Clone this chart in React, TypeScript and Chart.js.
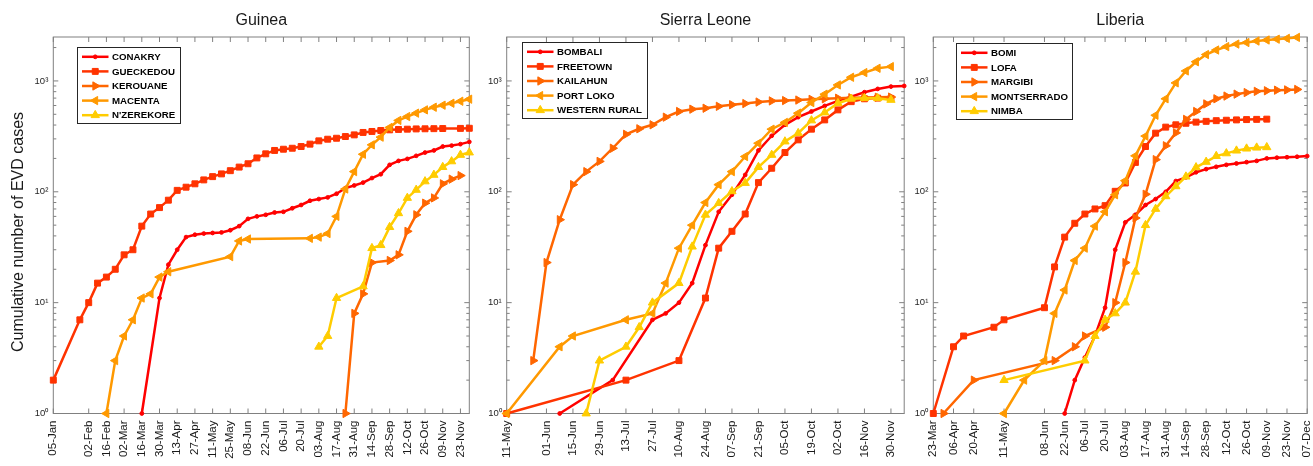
import React, { useEffect, useRef } from 'react';
import { Chart, registerables } from 'chart.js';

Chart.register(...registerables);

// ---------------- DATA ----------------
// Guinea (cumulative EVD cases, weekly, 2014)
const conakry: [string, number][] = [
  ['16-Mar', 1], ['30-Mar', 11], ['06-Apr', 22], ['13-Apr', 30], ['20-Apr', 39], ['27-Apr', 41],
  ['04-May', 42], ['11-May', 42.5], ['18-May', 43], ['25-May', 45], ['01-Jun', 49], ['08-Jun', 57],
  ['15-Jun', 60], ['22-Jun', 62], ['29-Jun', 65], ['06-Jul', 66], ['13-Jul', 71], ['20-Jul', 76],
  ['27-Jul', 83], ['03-Aug', 86], ['10-Aug', 89], ['17-Aug', 96], ['24-Aug', 108], ['31-Aug', 114],
  ['07-Sep', 121], ['14-Sep', 133], ['21-Sep', 144], ['28-Sep', 175], ['05-Oct', 190], ['12-Oct', 198],
  ['19-Oct', 211], ['26-Oct', 226], ['02-Nov', 236], ['09-Nov', 256], ['16-Nov', 261], ['23-Nov', 269],
  ['30-Nov', 282],
];
const gueckedou: [string, number][] = [
  ['05-Jan', 2], ['26-Jan', 7], ['02-Feb', 10], ['09-Feb', 15], ['16-Feb', 17], ['23-Feb', 20],
  ['02-Mar', 27], ['09-Mar', 30], ['16-Mar', 49], ['23-Mar', 63], ['30-Mar', 72], ['06-Apr', 84],
  ['13-Apr', 103], ['20-Apr', 110], ['27-Apr', 118], ['04-May', 128], ['11-May', 137], ['18-May', 145],
  ['25-May', 155], ['01-Jun', 167], ['08-Jun', 179], ['15-Jun', 202], ['22-Jun', 220], ['29-Jun', 236],
  ['06-Jul', 242], ['13-Jul', 247], ['20-Jul', 256], ['27-Jul', 269], ['03-Aug', 288], ['10-Aug', 298],
  ['17-Aug', 304], ['24-Aug', 315], ['31-Aug', 326], ['07-Sep', 343], ['14-Sep', 350], ['21-Sep', 357],
  ['28-Sep', 362], ['05-Oct', 365], ['12-Oct', 367], ['19-Oct', 369], ['26-Oct', 370], ['02-Nov', 371],
  ['09-Nov', 372], ['23-Nov', 373], ['30-Nov', 374],
];
const kerouane: [string, number][] = [
  ['24-Aug', 1], ['31-Aug', 8], ['07-Sep', 12], ['14-Sep', 23], ['28-Sep', 24], ['05-Oct', 27],
  ['12-Oct', 44], ['19-Oct', 62], ['26-Oct', 79], ['02-Nov', 88], ['09-Nov', 118], ['16-Nov', 130],
  ['23-Nov', 140],
];
const macenta: [string, number][] = [
  ['16-Feb', 1], ['23-Feb', 3], ['02-Mar', 5], ['09-Mar', 7], ['16-Mar', 11], ['23-Mar', 12],
  ['30-Mar', 17], ['06-Apr', 19], ['25-May', 26], ['01-Jun', 36], ['08-Jun', 37.5], ['27-Jul', 38],
  ['03-Aug', 39], ['10-Aug', 42], ['17-Aug', 60], ['24-Aug', 106], ['31-Aug', 152], ['07-Sep', 218],
  ['14-Sep', 265], ['21-Sep', 311], ['28-Sep', 380], ['05-Oct', 440], ['12-Oct', 477], ['19-Oct', 512],
  ['26-Oct', 548], ['02-Nov', 579], ['09-Nov', 604], ['16-Nov', 629], ['23-Nov', 656], ['30-Nov', 684],
];
const nzerekore: [string, number][] = [
  ['03-Aug', 4], ['10-Aug', 5], ['17-Aug', 11], ['07-Sep', 14], ['14-Sep', 31], ['21-Sep', 33],
  ['28-Sep', 48], ['05-Oct', 64], ['12-Oct', 88], ['19-Oct', 104], ['26-Oct', 124], ['02-Nov', 142],
  ['09-Nov', 167], ['16-Nov', 188], ['23-Nov', 215], ['30-Nov', 226],
];

// Sierra Leone
const bombali: [string, number][] = [
  ['08-Jun', 1], ['06-Jul', 2], ['27-Jul', 7], ['03-Aug', 8], ['10-Aug', 10], ['17-Aug', 15],
  ['24-Aug', 33], ['31-Aug', 66], ['07-Sep', 94], ['14-Sep', 142], ['21-Sep', 236], ['28-Sep', 320],
  ['05-Oct', 402], ['12-Oct', 471], ['19-Oct', 530], ['26-Oct', 595], ['02-Nov', 660], ['09-Nov', 722],
  ['16-Nov', 791], ['23-Nov', 847], ['30-Nov', 889], ['07-Dec', 901],
];
const freetown: [string, number][] = [
  ['11-May', 1], ['13-Jul', 2], ['10-Aug', 3], ['24-Aug', 11], ['31-Aug', 31], ['07-Sep', 44],
  ['14-Sep', 63], ['21-Sep', 121], ['28-Sep', 163], ['05-Oct', 226], ['12-Oct', 294], ['19-Oct', 367],
  ['26-Oct', 445], ['02-Nov', 548], ['09-Nov', 650], ['16-Nov', 690], ['23-Nov', 700], ['30-Nov', 695],
];
const kailahun: [string, number][] = [
  ['25-May', 3], ['01-Jun', 23], ['08-Jun', 56], ['15-Jun', 116], ['22-Jun', 152], ['29-Jun', 188],
  ['06-Jul', 247], ['13-Jul', 330], ['20-Jul', 370], ['27-Jul', 402], ['03-Aug', 471], ['10-Aug', 530],
  ['17-Aug', 556], ['24-Aug', 567], ['31-Aug', 590], ['07-Sep', 610], ['14-Sep', 625], ['21-Sep', 645],
  ['28-Sep', 660], ['05-Oct', 665], ['12-Oct', 672], ['19-Oct', 682], ['26-Oct', 690], ['02-Nov', 698],
  ['09-Nov', 705], ['16-Nov', 710], ['23-Nov', 712], ['30-Nov', 715],
];
const portLoko: [string, number][] = [
  ['11-May', 1], ['08-Jun', 4], ['15-Jun', 5], ['13-Jul', 7], ['27-Jul', 8], ['03-Aug', 15],
  ['10-Aug', 31], ['17-Aug', 50], ['24-Aug', 80], ['31-Aug', 116], ['07-Sep', 152], ['14-Sep', 208],
  ['21-Sep', 274], ['28-Sep', 367], ['05-Oct', 422], ['12-Oct', 512], ['19-Oct', 638], ['26-Oct', 759],
  ['02-Nov', 920], ['09-Nov', 1079], ['16-Nov', 1189], ['23-Nov', 1300], ['30-Nov', 1346],
];
const westernRural: [string, number][] = [
  ['22-Jun', 1], ['29-Jun', 3], ['13-Jul', 4], ['20-Jul', 6], ['27-Jul', 10], ['10-Aug', 15],
  ['17-Aug', 32], ['24-Aug', 62], ['31-Aug', 79], ['07-Sep', 101], ['14-Sep', 120], ['21-Sep', 167],
  ['28-Sep', 215], ['05-Oct', 284], ['12-Oct', 338], ['19-Oct', 440], ['26-Oct', 519], ['02-Nov', 629],
  ['09-Nov', 690], ['16-Nov', 698], ['23-Nov', 698], ['30-Nov', 674],
];

// Liberia
const bomi: [string, number][] = [
  ['22-Jun', 1], ['29-Jun', 2], ['06-Jul', 3.2], ['13-Jul', 5], ['20-Jul', 9], ['27-Jul', 30],
  ['03-Aug', 53], ['10-Aug', 62], ['17-Aug', 76], ['24-Aug', 86], ['31-Aug', 100], ['07-Sep', 125],
  ['14-Sep', 135], ['21-Sep', 150], ['28-Sep', 160], ['05-Oct', 168], ['12-Oct', 175], ['19-Oct', 180],
  ['26-Oct', 185], ['02-Nov', 190], ['09-Nov', 200], ['16-Nov', 203], ['23-Nov', 205], ['30-Nov', 207],
  ['07-Dec', 210],
];
const lofa: [string, number][] = [
  ['23-Mar', 1], ['06-Apr', 4], ['13-Apr', 5], ['04-May', 6], ['11-May', 7], ['08-Jun', 9],
  ['15-Jun', 21], ['22-Jun', 39], ['29-Jun', 52], ['06-Jul', 63], ['13-Jul', 70], ['20-Jul', 75],
  ['27-Jul', 101], ['03-Aug', 120], ['10-Aug', 184], ['17-Aug', 256], ['24-Aug', 338], ['31-Aug', 383],
  ['07-Sep', 402], ['14-Sep', 415], ['21-Sep', 425], ['28-Sep', 432], ['05-Oct', 438], ['12-Oct', 442],
  ['19-Oct', 445], ['26-Oct', 448], ['02-Nov', 450], ['09-Nov', 452],
];
const margibi: [string, number][] = [
  ['30-Mar', 1], ['20-Apr', 2], ['15-Jun', 3], ['29-Jun', 4], ['06-Jul', 5], ['20-Jul', 6],
  ['27-Jul', 10], ['03-Aug', 23], ['10-Aug', 58], ['17-Aug', 95], ['24-Aug', 195], ['31-Aug', 260],
  ['07-Sep', 340], ['14-Sep', 450], ['21-Sep', 530], ['28-Sep', 620], ['05-Oct', 690], ['12-Oct', 730],
  ['19-Oct', 760], ['26-Oct', 785], ['02-Nov', 805], ['09-Nov', 815], ['16-Nov', 825], ['23-Nov', 830],
  ['30-Nov', 838],
];
const montserrado: [string, number][] = [
  ['11-May', 1], ['25-May', 2], ['08-Jun', 3], ['15-Jun', 8], ['22-Jun', 13], ['29-Jun', 24],
  ['06-Jul', 31], ['13-Jul', 49], ['20-Jul', 66], ['27-Jul', 94], ['03-Aug', 126], ['10-Aug', 211],
  ['17-Aug', 318], ['24-Aug', 490], ['31-Aug', 690], ['07-Sep', 960], ['14-Sep', 1230], ['21-Sep', 1490],
  ['28-Sep', 1730], ['05-Oct', 1900], ['12-Oct', 2040], ['19-Oct', 2150], ['26-Oct', 2220], ['02-Nov', 2290],
  ['09-Nov', 2340], ['16-Nov', 2380], ['23-Nov', 2420], ['30-Nov', 2470],
];
const nimba: [string, number][] = [
  ['11-May', 2], ['06-Jul', 3], ['13-Jul', 5], ['20-Jul', 7], ['27-Jul', 8], ['03-Aug', 10],
  ['10-Aug', 19], ['17-Aug', 50], ['24-Aug', 70], ['31-Aug', 91], ['07-Sep', 112], ['14-Sep', 137],
  ['21-Sep', 166], ['28-Sep', 186], ['05-Oct', 210], ['12-Oct', 222], ['19-Oct', 235], ['26-Oct', 245],
  ['02-Nov', 250], ['09-Nov', 252],
];

// Series labels
const guineaLabels = ['CONAKRY', 'GUECKEDOU', 'KEROUANE', 'MACENTA', "N'ZEREKORE"];
const sierraLabels = ['BOMBALI', 'FREETOWN', 'KAILAHUN', 'PORT LOKO', 'WESTERN RURAL'];
const liberiaLabels = ['BOMI', 'LOFA', 'MARGIBI', 'MONTSERRADO', 'NIMBA'];

// Tick dates and tick labels
const guineaTickDates = ['05-Jan', '02-Feb', '16-Feb', '02-Mar', '16-Mar', '30-Mar', '13-Apr', '27-Apr',
  '11-May', '25-May', '08-Jun', '22-Jun', '06-Jul', '20-Jul', '03-Aug', '17-Aug', '31-Aug', '14-Sep',
  '28-Sep', '12-Oct', '26-Oct', '09-Nov', '23-Nov'];
const guineaTickLabels = [...guineaTickDates];
const sierraTickDates = ['11-May', '01-Jun', '15-Jun', '29-Jun', '13-Jul', '27-Jul', '10-Aug', '24-Aug',
  '07-Sep', '21-Sep', '05-Oct', '19-Oct', '02-Nov', '16-Nov', '30-Nov'];
const sierraTickLabels = ['11-May', '01-Jun', '15-Jun', '29-Jun', '13-Jul', '27-Jul', '10-Aug', '24-Aug',
  '07-Sep', '21-Sep', '05-Oct', '19-Oct', '02-Oct', '16-Nov', '30-Nov'];
const liberiaTickDates = ['23-Mar', '06-Apr', '20-Apr', '11-May', '08-Jun', '22-Jun', '06-Jul', '20-Jul',
  '03-Aug', '17-Aug', '31-Aug', '14-Sep', '28-Sep', '12-Oct', '26-Oct', '09-Nov', '23-Nov', '07-Dec'];
const liberiaTickLabels = [...liberiaTickDates];

const yTickValues = [1, 10, 100, 1000];
const yTickLabels = ['10⁰', '10¹', '10²', '10³'];

// ---------------- HELPERS / STYLE ----------------
const MONTH_OFFSET: Record<string, number> = {
  Jan: 0, Feb: 31, Mar: 59, Apr: 90, May: 120, Jun: 151, Jul: 181, Aug: 212, Sep: 243, Oct: 273, Nov: 304, Dec: 334,
};
const dayOf = (s: string) => {
  const [d, m] = s.split('-');
  return MONTH_OFFSET[m] + Number(d);
};

const COLORS = ['#FF0000', '#FF3300', '#FF6600', '#FF9900', '#FFCC00'];
const MARKERS = [
  { style: 'circle', radius: 1.9, rotation: 0 },
  { style: 'rect', radius: 4.2, rotation: 0 },
  { style: 'triangle', radius: 4.8, rotation: 90 },
  { style: 'triangle', radius: 4.8, rotation: -90 },
  { style: 'triangle', radius: 4.8, rotation: 0 },
];
const FONT = '"Liberation Sans", Arial, Helvetica, sans-serif';

function drawMarker(ctx: CanvasRenderingContext2D, i: number, x: number, y: number) {
  const m = MARKERS[i];
  const r = m.radius;
  ctx.beginPath();
  if (m.style === 'circle') {
    ctx.arc(x, y, r, 0, Math.PI * 2);
  } else if (m.style === 'rect') {
    const s = Math.SQRT1_2 * r;
    ctx.rect(x - s, y - s, 2 * s, 2 * s);
  } else {
    let rad = (m.rotation * Math.PI) / 180;
    for (let k = 0; k < 3; k++) {
      const px = x + Math.sin(rad) * r;
      const py = y - Math.cos(rad) * r;
      if (k === 0) ctx.moveTo(px, py); else ctx.lineTo(px, py);
      rad += (2 * Math.PI) / 3;
    }
    ctx.closePath();
  }
  ctx.fillStyle = COLORS[i];
  ctx.strokeStyle = COLORS[i];
  ctx.lineWidth = 1;
  ctx.fill();
  ctx.stroke();
}

const panelPlugin = {
  id: 'panel',
  beforeDatasetsDraw(chart: any, _args: any, opts: any) {
    const { ctx, chartArea } = chart;
    const { left, right, top, bottom } = chartArea;
    ctx.save();
    ctx.strokeStyle = '#808080';
    ctx.lineWidth = 1;
    ctx.strokeRect(left, top, right - left, bottom - top);
    const xs = chart.scales.x;
    ctx.beginPath();
    for (const t of xs.ticks) {
      const px = xs.getPixelForValue(t.value);
      ctx.moveTo(px, bottom);
      ctx.lineTo(px, bottom - 5);
      ctx.moveTo(px, top);
      ctx.lineTo(px, top + 5);
    }
    const ys = chart.scales.y;
    for (let e = 0; e <= 3; e++) {
      for (let m = 1; m <= 9; m++) {
        const v = m * Math.pow(10, e);
        if (v > ys.max) break;
        const py = ys.getPixelForValue(v);
        const len = m === 1 ? 5 : 3;
        ctx.moveTo(left, py);
        ctx.lineTo(left + len, py);
        ctx.moveTo(right, py);
        ctx.lineTo(right - len, py);
      }
    }
    ctx.stroke();
    ctx.restore();
  },
  afterDraw(chart: any, _args: any, opts: any) {
    const { ctx, chartArea } = chart;
    const { left, right, top } = chartArea;
    ctx.save();
    // panel title
    ctx.fillStyle = '#1a1a1a';
    ctx.font = `16px ${FONT}`;
    ctx.textAlign = 'center';
    ctx.textBaseline = 'middle';
    ctx.fillText(opts.title, (left + right) / 2, 21);
    // y-axis title
    if (opts.yTitle) {
      ctx.save();
      ctx.translate(19, 232);
      ctx.rotate(-Math.PI / 2);
      ctx.fillText(opts.yTitle, 0, 0);
      ctx.restore();
    }
    // legend
    const labels: string[] = chart.data.datasets.map((d: any) => d.label);
    ctx.font = `bold 9.7px ${FONT}`;
    const maxW = Math.max(...labels.map((l) => ctx.measureText(l).width));
    const lx = Math.round(left + opts.legendX) + 0.5;
    const ly = Math.round(top + opts.legendY) + 0.5;
    const w = Math.round(34.5 + maxW + 5);
    const h = 76;
    ctx.fillStyle = '#ffffff';
    ctx.fillRect(lx, ly, w, h);
    ctx.strokeStyle = '#262626';
    ctx.lineWidth = 1;
    ctx.strokeRect(lx, ly, w, h);
    labels.forEach((label, i) => {
      const cy = ly + 9.3 + i * 14.6;
      ctx.beginPath();
      ctx.moveTo(lx + 4.5, cy);
      ctx.lineTo(lx + 31, cy);
      ctx.strokeStyle = COLORS[i];
      ctx.lineWidth = 2.5;
      ctx.stroke();
      drawMarker(ctx, i, lx + 17.75, cy);
      ctx.fillStyle = '#000000';
      ctx.textAlign = 'left';
      ctx.textBaseline = 'middle';
      ctx.fillText(label, lx + 34.5, cy + 0.5);
    });
    ctx.restore();
  },
};

type PanelCfg = {
  key: string;
  title: string;
  yTitle?: string;
  left: number;
  width: number;
  yWidth: number;
  padRight: number;
  xMin: string;
  xMax: string;
  tickDates: string[];
  tickLabels: string[];
  labels: string[];
  series: [string, number][][];
  legendX: number;
  legendY: number;
};

const PANELS: PanelCfg[] = [
  {
    key: 'guinea', title: 'Guinea', yTitle: 'Cumulative number of EVD cases', left: 0, width: 480, yWidth: 53.3,
    padRight: 10.7, xMin: '05-Jan', xMax: '30-Nov', tickDates: guineaTickDates, tickLabels: guineaTickLabels,
    labels: guineaLabels, series: [conakry, gueckedou, kerouane, macenta, nzerekore], legendX: 23.4, legendY: 9.7,
  },
  {
    key: 'sierra', title: 'Sierra Leone', left: 480, width: 430, yWidth: 26.7, padRight: 5,
    xMin: '11-May', xMax: '07-Dec', tickDates: sierraTickDates, tickLabels: sierraTickLabels,
    labels: sierraLabels, series: [bombali, freetown, kailahun, portLoko, westernRural], legendX: 15, legendY: 5.3,
  },
  {
    key: 'liberia', title: 'Liberia', left: 910, width: 403, yWidth: 23.3, padRight: 2,
    xMin: '23-Mar', xMax: '07-Dec', tickDates: liberiaTickDates, tickLabels: liberiaTickLabels,
    labels: liberiaLabels, series: [bomi, lofa, margibi, montserrado, nimba], legendX: 23, legendY: 6,
  },
];

function buildConfig(p: PanelCfg): any {
  const datasets = p.series.map((pts, i) => ({
    label: p.labels[i],
    data: pts.map(([d, v]) => ({ x: dayOf(d), y: v })),
    borderColor: COLORS[i],
    backgroundColor: COLORS[i],
    borderWidth: 2.5,
    pointStyle: MARKERS[i].style,
    pointRadius: MARKERS[i].radius,
    pointRotation: MARKERS[i].rotation,
    pointBackgroundColor: COLORS[i],
    pointBorderColor: COLORS[i],
    pointBorderWidth: 1,
    pointHoverRadius: MARKERS[i].radius,
    tension: 0,
    fill: false,
    clip: false,
    spanGaps: true,
    order: 10 - i,
  }));
  const tickDays = p.tickDates.map(dayOf);
  return {
    type: 'line',
    data: { datasets },
    options: {
      animation: false,
      responsive: false,
      maintainAspectRatio: false,
      events: [],
      layout: { padding: { top: 37, right: p.padRight, left: 0, bottom: 0 } },
      plugins: {
        legend: { display: false },
        title: { display: false },
        tooltip: { enabled: false },
        panel: { title: p.title, yTitle: p.yTitle, legendX: p.legendX, legendY: p.legendY },
      },
      scales: {
        x: {
          type: 'linear',
          min: dayOf(p.xMin),
          max: dayOf(p.xMax),
          grid: { display: false, drawTicks: false },
          border: { display: false },
          afterBuildTicks: (s: any) => {
            s.ticks = tickDays.map((v) => ({ value: v }));
          },
          afterFit: (s: any) => {
            s.height = 52.5;
            s.paddingLeft = 0;
            s.paddingRight = 0;
          },
          ticks: {
            autoSkip: false,
            minRotation: 90,
            maxRotation: 90,
            padding: 7,
            color: '#1a1a1a',
            font: { family: FONT, size: 11.5 },
            callback: (_v: any, i: number) => p.tickLabels[i],
          },
        },
        y: {
          type: 'logarithmic',
          min: 1,
          max: 2490,
          grid: { display: false, drawTicks: false },
          border: { display: false },
          afterBuildTicks: (s: any) => {
            s.ticks = yTickValues.map((v) => ({ value: v }));
          },
          afterFit: (s: any) => {
            s.width = p.yWidth;
            s.paddingTop = 0;
            s.paddingBottom = 0;
          },
          ticks: {
            padding: 5,
            color: '#262626',
            font: { family: FONT, size: 9.5 },
            callback: (v: any) => yTickLabels[yTickValues.indexOf(Number(v))] ?? '',
          },
        },
      },
    },
    plugins: [panelPlugin],
  };
}

function Panel({ cfg }: { cfg: PanelCfg }) {
  const ref = useRef<HTMLCanvasElement>(null);
  useEffect(() => {
    const chart = new Chart(ref.current as HTMLCanvasElement, buildConfig(cfg));
    return () => chart.destroy();
  }, [cfg]);
  return (
    <canvas
      ref={ref}
      width={cfg.width}
      height={466}
      style={{ position: 'absolute', left: cfg.left, top: 0, width: cfg.width, height: 466 }}
    />
  );
}

export default function App() {
  return (
    <div
      style={{
        position: 'absolute', left: 0, top: 0, width: 1313, height: 466,
        overflow: 'hidden', background: '#ffffff',
      }}
    >
      {PANELS.map((p) => (
        <Panel key={p.key} cfg={p} />
      ))}
    </div>
  );
}
